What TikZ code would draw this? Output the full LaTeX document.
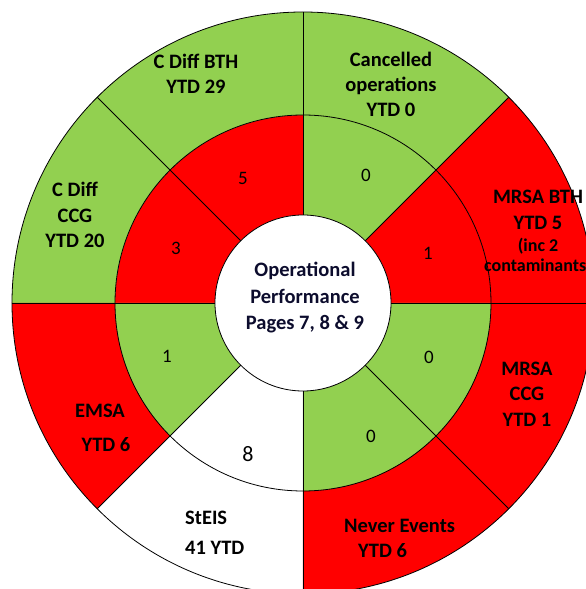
\documentclass[tikz,border=0pt]{standalone}
\usepackage{fontspec}
\setmainfont{Carlito}
\definecolor{kpigreen}{HTML}{92D050}
\definecolor{kpired}{HTML}{FF0000}
\definecolor{hubink}{RGB}{12,12,45}
\tikzset{
  rim/.style={draw=black, line width=0.8pt},
  lbl/.style={font=\bfseries\fontsize{20.5}{25}\selectfont, align=center, inner sep=0pt, anchor=base},
  smalllbl/.style={font=\bfseries\fontsize{18}{20.5}\selectfont, align=center, inner sep=0pt, anchor=base},
  num/.style={font=\fontsize{19}{23}\selectfont, inner sep=0pt},
}
\begin{document}
\begin{tikzpicture}[x=1pt, y=1pt]
\useasboundingbox (-303,-286) rectangle (283,303);
\clip (-303,-286) rectangle (283,303);

% inner ring (counts) and outer ring (year to date), 45 degree sectors
\foreach \a/\b/\ci/\co in {0/45/kpired/kpired, 45/90/kpigreen/kpigreen,
    90/135/kpired/kpigreen, 135/180/kpired/kpigreen, 180/225/kpigreen/kpired,
    225/270/white/white, 270/315/kpigreen/kpired, 315/360/kpigreen/kpired}{
  \fill[\ci] (\a:88pt) arc[start angle=\a, end angle=\b, radius=88pt]
     -- (\b:188pt) arc[start angle=\b, end angle=\a, radius=188pt] -- cycle;
  \fill[\co] (\a:188pt) arc[start angle=\a, end angle=\b, radius=188pt]
     -- (\b:291pt) arc[start angle=\b, end angle=\a, radius=291pt] -- cycle;
}
\draw[rim] (0,0) circle[radius=291pt];
\draw[rim] (0,0) circle[radius=188pt];
\foreach \a in {0,45,...,315}{
  \draw[rim] (\a:88pt) -- (\a:291pt);
}
\node[circle, rim, fill=white, minimum size=176pt, inner sep=0pt] (hub) at (0,0) {};
% multi-line labels are placed by the baseline of their last line
\node[lbl, text=hubink, font=\bfseries\fontsize{20.5}{26.5}\selectfont] (hubtext) at (2,-27) {Operational\\Performance\\Pages 7, 8 \& 9};

% outer ring labels
\node[lbl] (cdiffbth) at (-107,209) {C Diff BTH\\YTD 29};
\node[lbl, font=\bfseries\fontsize{20.5}{25.5}\selectfont] (cdiffccg) at (-228,55) {C Diff\\CCG\\YTD 20};
\node[lbl] (cancelled) at (88,186) {Cancelled\\operations\\YTD 0};
\node[lbl, font=\bfseries\fontsize{20.5}{26}\selectfont] (mrsabth) at (235,73) {MRSA BTH\\YTD 5};
\node[smalllbl] (mrsanote) at (235,31) {(inc 2\\contaminants)};
\node[lbl, font=\bfseries\fontsize{20.5}{25.5}\selectfont] (mrsaccg) at (224,-123) {MRSA\\CCG\\YTD 1};
\node[lbl, align=left, anchor=base west] (never) at (41,-254) {Never Events\\\hspace*{14pt}YTD 6};
\node[lbl, align=left, anchor=base west, font=\bfseries\fontsize{20.5}{30}\selectfont] (steis) at (-118,-251) {StEIS\\41 YTD};
\node[lbl, font=\bfseries\fontsize{20.5}{34}\selectfont] (emsa) at (-203,-148) {EMSA\\\hspace*{12pt}YTD 6};

% inner ring counts
\node[num] (n5) at (-60,125) {5};
\node[num] (n3) at (-127,55) {3};
\node[num] (n0a) at (63,128) {0};
\node[num] (n1a) at (125,50) {1};
\node[num] (n0b) at (126,-54) {0};
\node[num] (n0c) at (68,-133) {0};
\node[num, font=\fontsize{22}{26}\selectfont] (n8) at (-55,-151) {8};
\node[num] (n1b) at (-136,-53) {1};
\end{tikzpicture}
\end{document}
